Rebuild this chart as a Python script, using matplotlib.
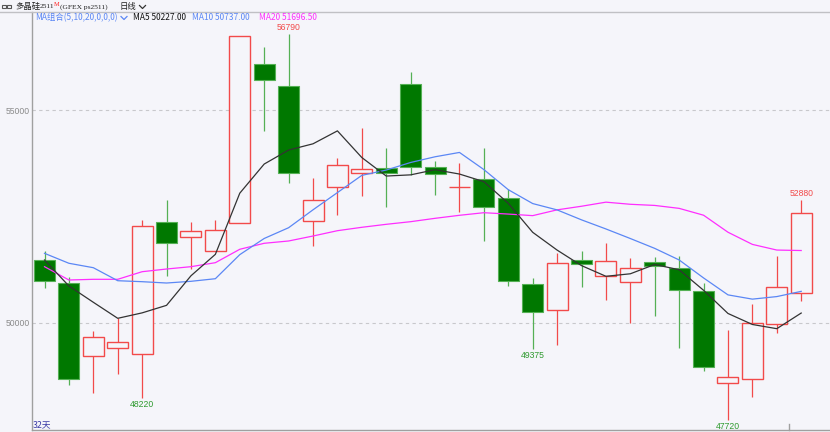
import matplotlib
matplotlib.use("Agg")
import matplotlib.pyplot as plt
from matplotlib.patches import Rectangle
from matplotlib.lines import Line2D

# ---------------- data ----------------
opens = [51474, 50926, 49210, 49398, 49257, 52360, 52008, 51693, 52337, 56082, 55558, 52391,
         53197, 53512, 53630, 55605, 53668, 53180, 53371, 52925, 50903, 50299, 51474, 51098,
         50950, 51420, 51279, 50752, 48575, 48676, 49969, 50691]
highs = [51686, 51074, 49805, 50103, 52415, 52885, 52375, 52415, 56740, 56489, 56790, 53395,
         53865, 54570, 54114, 55901, 53809, 53747, 54100, 53136, 51044, 51632, 51686, 51881,
         51528, 51552, 51568, 50940, 49828, 50433, 51568, 52880]
lows = [50816, 48535, 48347, 48787, 48220, 51105, 51262, 51693, 52337, 54514, 53277, 51803,
        52532, 52986, 52713, 53472, 53002, 52610, 51928, 50863, 49375, 49476, 50832, 50534,
        50000, 50158, 49400, 48872, 47720, 48260, 49765, 50517]
closes = [50980, 48676, 49664, 49553, 52280, 51867, 52149, 52187, 56740, 55706, 53512, 52885,
          53708, 53606, 53527, 53653, 53489, 53200, 52713, 50980, 50245, 51397, 51373, 51458,
          51279, 51340, 50769, 48966, 48730, 49986, 50846, 52572]
ma5 = [51474, 50863, 50480, 50103, 50231, 50408, 51103, 51607, 53045, 53730, 54059, 54206,
       54510, 53883, 53448, 53476, 53597, 53495, 53316, 52807, 52125, 51707, 51342, 51091,
       51150, 51369, 51244, 50762, 50217, 49958, 49859, 50227]
ma10 = [51631, 51397, 51293, 50987, 50964, 50933, 50973, 51034, 51600, 51980, 52233, 52654,
        53059, 53464, 53589, 53767, 53901, 54003, 53600, 53127, 52801, 52652, 52418, 52204,
        51979, 51747, 51475, 51052, 50654, 50554, 50614, 50737]
ma20 = [51317, 51004, 51020, 51020, 51199, 51262, 51317, 51411, 51726, 51867, 51921, 52038,
        52163, 52243, 52313, 52375, 52454, 52525, 52586, 52554, 52517, 52653, 52738, 52834,
        52784, 52757, 52688, 52527, 52127, 51841, 51708, 51697]
ytick_values = [50000, 55000]
ytick_labels = ["50000", "55000"]
ma_header = ["MA5 50227.00", "MA10 50737.00", "MA20 51696.50"]
extreme_labels = [(10, 56790, "high"), (4, 48220, "low"), (20, 49375, "low"),
                  (28, 47720, "low"), (31, 52880, "high")]

# ---------------- style ----------------
W, H = 830, 432
BG = "#f5f5fa"
RED = "#f24a4a"
GREEN_BODY = "#007800"
GREEN_EDGE = "#55b055"
GREEN_TXT = "#2e9a2e"
C_MA5 = "#333333"
C_MA10 = "#5b87f5"
C_MA20 = "#ff2eff"
cjk = ["Noto Sans CJK SC", "DejaVu Sans"]

fig = plt.figure(figsize=(W / 100, H / 100), dpi=100, facecolor=BG)
ax = fig.add_axes([32 / W, 2 / H, (W - 32) / W, 418 / H])
ax.set_facecolor(BG)

n = len(closes)
xs = list(range(n))
bw = 0.86

for i in xs:
    o, h, l, c = opens[i], highs[i], lows[i], closes[i]
    top, bot = max(o, c), min(o, c)
    if c >= o:
        ax.vlines(i, top, h, color=RED, lw=0.9, zorder=3)
        ax.vlines(i, l, bot, color=RED, lw=0.9, zorder=3)
        hh = max(top - bot, 8)
        ax.add_patch(Rectangle((i - bw / 2, bot), bw, hh, facecolor=BG,
                               edgecolor=RED, lw=1.0, zorder=4))
    else:
        ax.vlines(i, l, h, color=GREEN_EDGE, lw=0.9, zorder=3)
        ax.add_patch(Rectangle((i - bw / 2, bot), bw, top - bot, facecolor=GREEN_BODY,
                               edgecolor=GREEN_EDGE, lw=0.8, zorder=4))

ax.plot(xs, ma20, color=C_MA20, lw=0.9, zorder=5)
ax.plot(xs, ma10, color=C_MA10, lw=0.9, zorder=5)
ax.plot(xs, ma5, color=C_MA5, lw=0.9, zorder=6)

for v in ytick_values:
    ax.axhline(v, color="#c8c8cc", lw=0.8, ls=(0, (3, 3)), zorder=1)

ax.set_xlim((32 - 44.5) / 24.41, (830 - 44.5) / 24.41)
ax.set_ylim(47477, 57305)
ax.set_xticks([])
ax.set_yticks(ytick_values)
ax.set_yticklabels(ytick_labels, color="#8a8a8a", fontsize=6.2, family="Liberation Sans")
ax.tick_params(axis="y", length=0, pad=1.5)
for s in ["top", "right"]:
    ax.spines[s].set_visible(False)
ax.spines["left"].set_color("#a0a0a0")
ax.spines["bottom"].set_color("#a0a0a0")
ax.spines["left"].set_linewidth(1)
ax.spines["bottom"].set_linewidth(1)

# month tick at bottom
ax.plot([30.5, 30.5], [47477, 47477 + 6 * 23.51], color="#a0a0a0", lw=1, clip_on=False)

for idx, val, kind in extreme_labels:
    if kind == "high":
        ax.annotate(str(val), (idx, val), xytext=(0, 1.5), textcoords="offset points",
                    ha="center", va="bottom", color=RED, fontsize=6.2,
                    family="Liberation Sans", zorder=7)
    else:
        ax.annotate(str(val), (idx, val), xytext=(0, -1.5), textcoords="offset points",
                    ha="center", va="top", color=GREEN_TXT, fontsize=6.2,
                    family="Liberation Sans", zorder=7)


def ftext(x, y, s, **kw):
    return fig.text(x / W, 1 - y / H, s, **kw)


ftext(32.5, 424.3, "32天", color="#3c3ca6", fontsize=6.3, va="center", ha="left",
      family=cjk)

# header
fig.add_artist(Line2D([0, 1], [1 - 12.3 / H, 1 - 12.3 / H], transform=fig.transFigure,
                      color="#c0c0c4", lw=1))
for x0 in (2, 6.8):
    fig.add_artist(Rectangle((x0 / W, 1 - 7.5 / H), 3.8 / W, 2.8 / H,
                             transform=fig.transFigure,
                             facecolor="none", edgecolor="#555555", lw=0.8))
ftext(15, 6.5, "多晶硅", color="#222222", fontsize=6.0, va="center", ha="left", family=cjk)
ftext(40, 7, "2511", color="#222222", fontsize=5.4, va="center", ha="left",
      family="Liberation Serif")
ftext(53.5, 5, "M", color="#ff2020", fontsize=4.6, va="center", ha="left",
      family="Liberation Serif")
ftext(60, 7, "(GFEX ps2511)", color="#222222", fontsize=5.4, va="center", ha="left",
      family="Liberation Serif")
ftext(120, 6.5, "日线", color="#222222", fontsize=6.0, va="center", ha="left", family=cjk)


def chevron(x, y, color):
    fig.add_artist(Line2D([x / W, (x + 3) / W, (x + 6) / W],
                          [1 - (y - 1.5) / H, 1 - (y + 1.5) / H, 1 - (y - 1.5) / H],
                          transform=fig.transFigure, color=color, lw=0.9))


chevron(139.5, 7, "#333333")
ftext(35, 17.5, "MA组合(5,10,20,0,0,0)", color=C_MA10, fontsize=6.0, va="center",
      ha="left", family=cjk)
chevron(121, 18, C_MA10)
ftext(133, 17.5, ma_header[0], color="#111111", fontsize=6.0, va="center", ha="left",
      family=cjk)
ftext(192, 17.5, ma_header[1], color=C_MA10, fontsize=6.0, va="center", ha="left",
      family=cjk)
ftext(259, 17.5, ma_header[2], color=C_MA20, fontsize=6.0, va="center", ha="left",
      family=cjk)

fig.savefig("out.png", dpi=100, facecolor=BG)
